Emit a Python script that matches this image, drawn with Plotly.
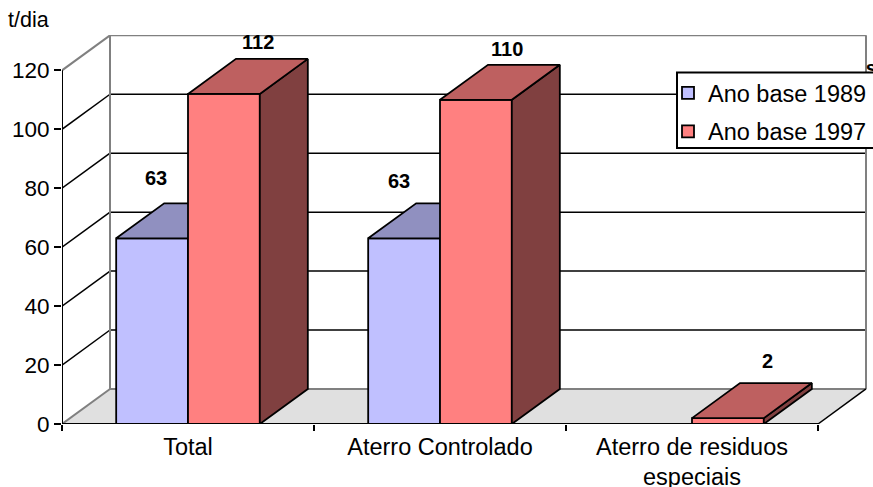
import plotly.graph_objects as go

categories = ["Total", "Aterro Controlado", "Aterro de residuos<br>especiais"]
series_1989 = [63, 63, None]
series_1997 = [112, 110, 2]
name_1989 = "Ano base 1989"
name_1997 = "Ano base 1997"
y_ticks = [0, 20, 40, 60, 80, 100, 120]
y_unit = "t/dia"

# pseudo-3D projection, in axis units
PX_X = 252.0
PX_Y = 2.943
DEPTH_X = 48 / PX_X
DEPTH_Y = 35 / PX_Y
BAR_W = 0.285
ML, MT, MB = 62, 35, 63
PLOT_W = 873 - ML
PLOT_H = 487 - MT - MB
X_MAX = PLOT_W / PX_X
Y_MAX = 132.0

BLUE = dict(front="#C0C0FF", top="#9090C0", side="#606090")
RED = dict(front="#FF8080", top="#BE6060", side="#804040")
GREY = "#808080"
FONT = "Liberation Sans, Arial, sans-serif"
TICK_SIZE = 22.5
CAT_SIZE = 23.5
LEGEND_SIZE = 23.5
LABEL_SIZE = 20


def faces(left, value, colors, axes):
    xa, ya = axes
    right = left + BAR_W
    top = dict(
        x=[left, right, right + DEPTH_X, left + DEPTH_X, left],
        y=[value, value, value + DEPTH_Y, value + DEPTH_Y, value],
        fill=colors["top"],
    )
    side = dict(
        x=[right, right + DEPTH_X, right + DEPTH_X, right, right],
        y=[0, DEPTH_Y, value + DEPTH_Y, value, 0],
        fill=colors["side"],
    )
    out = []
    for f in (side, top):
        out.append(
            go.Scatter(
                x=f["x"], y=f["y"], mode="lines", fill="toself", fillcolor=f["fill"],
                line=dict(color="black", width=1.8), showlegend=False, hoverinfo="skip",
                xaxis=xa, yaxis=ya,
            )
        )
    return out


fig = go.Figure()
centers = [i + 0.5 for i in range(len(categories))]
left_1989 = [c - BAR_W for c in centers]

fig.add_trace(go.Bar(
    x=centers, y=series_1989, name=name_1989, width=BAR_W, offset=-BAR_W, legendgroup="a",
    marker=dict(color=BLUE["front"], line=dict(color="black", width=1.8)),
))
for left, v in zip(left_1989, series_1989):
    if v is not None:
        for t in faces(left, v, BLUE, ("x", "y")):
            fig.add_trace(t)

fig.add_trace(go.Bar(
    x=centers, y=series_1997, name=name_1997, width=BAR_W, offset=0, legendgroup="b",
    marker=dict(color=RED["front"], line=dict(color="black", width=1.8)),
    xaxis="x2", yaxis="y2",
))
for left, v in zip(centers, series_1997):
    if v is not None:
        for t in faces(left, v, RED, ("x2", "y2")):
            fig.add_trace(t)

# axis lines limited to the front plane
fig.add_trace(go.Scatter(x=[0, 0], y=[0, y_ticks[-1]], mode="lines", line=dict(color="black", width=2),
                         showlegend=False, hoverinfo="skip", xaxis="x2", yaxis="y2"))
fig.add_trace(go.Scatter(x=[0, len(categories)], y=[0, 0], mode="lines", line=dict(color="black", width=2),
                         showlegend=False, hoverinfo="skip", xaxis="x2", yaxis="y2"))
# stray label fragment cut off by the legend and the picture edge
fig.add_trace(go.Scatter(x=[3.212], y=[120.0], mode="text", text=["<b>s</b>"], cliponaxis=False,
                         textfont=dict(family=FONT, size=LABEL_SIZE, color="black"),
                         showlegend=False, hoverinfo="skip", xaxis="x2", yaxis="y2"))

shapes = []
n = len(categories)
shapes.append(dict(type="path", layer="below", xref="x", yref="y", line=dict(width=0), fillcolor="#E0E0E0",
                   path=f"M 0 0 L {DEPTH_X} {DEPTH_Y} L {n + DEPTH_X} {DEPTH_Y} L {n} 0 Z"))
top_v = y_ticks[-1]
for v in y_ticks:
    edge = v in (y_ticks[0], top_v)
    col = GREY if edge else "black"
    w = 2 if edge else 1.5
    shapes.append(dict(type="line", layer="below", xref="x", yref="y", x0=DEPTH_X, x1=n + DEPTH_X,
                       y0=v + DEPTH_Y, y1=v + DEPTH_Y, line=dict(color=col, width=w)))
    shapes.append(dict(type="line", layer="below", xref="x", yref="y", x0=0, x1=DEPTH_X,
                       y0=v, y1=v + DEPTH_Y, line=dict(color=col, width=w)))
for xv in (DEPTH_X, n + DEPTH_X):
    shapes.append(dict(type="line", layer="below", xref="x", yref="y", x0=xv, x1=xv,
                       y0=DEPTH_Y, y1=top_v + DEPTH_Y, line=dict(color=GREY, width=2)))
shapes.append(dict(type="line", layer="below", xref="x", yref="y", x0=n, x1=n + DEPTH_X,
                   y0=0, y1=DEPTH_Y, line=dict(color="black", width=1.5)))
# legend frame (paper coordinates), drawn over the plot, under the legend entries
shapes.append(dict(type="rect", layer="above", xref="paper", yref="paper",
                   x0=(677 - ML) / PLOT_W, x1=(900 - ML) / PLOT_W, y0=(424 - 148) / PLOT_H, y1=(424 - 72.5) / PLOT_H,
                   fillcolor="white", line=dict(color="black", width=2)))

annotations = [dict(text=y_unit, xref="paper", yref="paper", x=(6.4 - ML) / PLOT_W, y=1.038, xanchor="left",
                    yanchor="middle", showarrow=False, font=dict(family=FONT, size=21.5, color="black"))]
nudges_1989 = [(4, 60), (-5, 57), None]
nudges_1997 = [(34, 52), (31, 51), (40, 57)]
for c, v, nd in zip(left_1989, series_1989, nudges_1989):
    if v is not None:
        annotations.append(dict(text=f"<b>{v}</b>", x=c + BAR_W / 2, y=v, xshift=nd[0], yshift=nd[1], showarrow=False,
                                font=dict(family=FONT, size=LABEL_SIZE, color="black")))
for c, v, nd in zip(centers, series_1997, nudges_1997):
    annotations.append(dict(text=f"<b>{v}</b>", x=c + BAR_W / 2, y=v, xshift=nd[0], yshift=nd[1], showarrow=False,
                            font=dict(family=FONT, size=LABEL_SIZE, color="black")))

fig.update_layout(
    width=873, height=487,
    margin=dict(l=ML, r=0, t=MT, b=MB, autoexpand=False),
    paper_bgcolor="white", plot_bgcolor="white",
    barmode="overlay",
    font=dict(family=FONT, color="black"),
    shapes=shapes,
    annotations=annotations,
    xaxis=dict(
        range=[0, X_MAX], tickmode="array", tickvals=centers, ticktext=categories, ticks="",
        showgrid=False, zeroline=False, showline=False, tickfont=dict(family=FONT, size=CAT_SIZE),
        tickangle=0, ticklabelstandoff=6,
        minor=dict(tickmode="array", tickvals=list(range(n + 1)), ticks="outside", ticklen=6, tickwidth=2,
                   tickcolor="black", showgrid=False),
    ),
    yaxis=dict(
        range=[0, Y_MAX], tickmode="array", tickvals=y_ticks, ticks="outside", ticklen=7, tickwidth=2,
        tickcolor="black", showgrid=False, zeroline=False, showline=False,
        tickfont=dict(family=FONT, size=TICK_SIZE),
    ),
    xaxis2=dict(range=[0, X_MAX], overlaying="x", visible=False),
    yaxis2=dict(range=[0, Y_MAX], overlaying="y", visible=False),
    legend=dict(
        x=(668 - ML) / PLOT_W, y=(424 - 71) / PLOT_H, xanchor="left", yanchor="top", bgcolor="rgba(0,0,0,0)",
        borderwidth=0, font=dict(family=FONT, size=LEGEND_SIZE), itemwidth=30, traceorder="grouped", tracegroupgap=5,
        entrywidth=200, entrywidthmode="pixels",
    ),
)

fig.write_html("out.html", config=dict(displayModeBar=False), post_script="document.body.style.margin='0';")
